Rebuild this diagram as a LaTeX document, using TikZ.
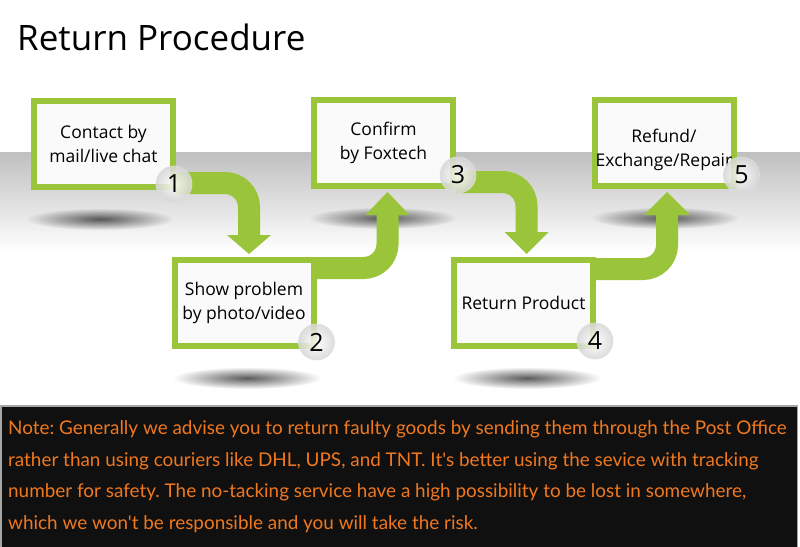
\documentclass[tikz,border=0pt]{standalone}
\usepackage{fontspec}
\setmainfont{Open Sans}
\newfontfamily\notefont{Lato}
\usetikzlibrary{calc,fadings,shadings}
\definecolor{grn}{RGB}{154,196,58}
\definecolor{noteorange}{RGB}{240,120,30}
\definecolor{notebg}{RGB}{16,16,16}
\tikzfading[name=shadowfade, inner color=transparent!25, outer color=transparent!100]
\frenchspacing
\begin{document}
\begin{tikzpicture}[x=1pt,y=-1pt,
  stepbox/.style={draw=grn, line width=6pt, fill=white!96!gray, minimum width=139pt, minimum height=86pt, inner sep=0pt, align=center, font=\fontsize{17.5}{24}\selectfont},
  shaft/.style={draw=grn, line width=22pt, rounded corners=24pt},
  headtri/.style={fill=grn},
  numc/.style={circle, minimum size=36pt, inner sep=0pt, shade, inner color=white, outer color=gray!32, draw=gray!25, line width=0.6pt, fill opacity=0.85, text opacity=1, font=\fontsize{25}{25}\selectfont},
  shadowell/.style={fill=black!85, path fading=shadowfade},
  notetxt/.style={anchor=base west, inner sep=0pt, text=noteorange, font=\notefont\fontsize{18.9}{22}\selectfont}
]
\useasboundingbox (0,0) rectangle (800,546);
\fill[white] (0,0) rectangle (800,546);
% gray band
\shade[top color=black!25, bottom color=white] (0,152) rectangle (800,252);
% shadows
\fill[shadowell] (100,219) ellipse [x radius=74pt, y radius=11pt];
\fill[shadowell] (247,378) ellipse [x radius=74pt, y radius=11pt];
\fill[shadowell] (383,218) ellipse [x radius=74pt, y radius=11pt];
\fill[shadowell] (527,378) ellipse [x radius=74pt, y radius=11pt];
\fill[shadowell] (665,218) ellipse [x radius=74pt, y radius=11pt];
% title
\node[anchor=base west, inner sep=0pt, font=\fontsize{35}{35}\selectfont] (title) at (17,50) {Return Procedure};
% box positions
\path (103.5,144) coordinate (c1) (244,303) coordinate (c2) (383.5,143) coordinate (c3) (523.5,303) coordinate (c4) (664,143) coordinate (c5);
\node[stepbox, draw=none, fill=none] (b1) at (c1) {};
\node[stepbox, draw=none, fill=none] (b2) at (c2) {};
\node[stepbox, draw=none, fill=none] (b3) at (c3) {};
\node[stepbox, draw=none, fill=none] (b4) at (c4) {};
\node[stepbox, draw=none, fill=none] (b5) at (c5) {};
% shafts
\draw[shaft] ($(b1.south east)+(0,-7)$) -| ($(b2.north)+(5,-22)$);
\draw[shaft] ($(b2.east)+(0,-35)$) -| ($(b3.south)+(4,26)$);
\draw[shaft] ($(b3.south east)+(0,-7)$) -| ($(b4.north)+(3,-25)$);
\draw[shaft] ($(b4.east)+(0,-34)$) -| ($(b5.south)+(3,26)$);
% boxes
\node[stepbox] (s1) at (c1) {Contact by\\mail/live chat};
\node[stepbox] (s2) at (c2) {Show problem\\by photo/video};
\node[stepbox] (s3) at (c3) {Confirm\\by Foxtech};
\node[stepbox] (s4) at (c4) {Return Product};
\node[stepbox] (s5) at (c5) {\rule{0pt}{27pt}Refund/\\Exchange/Repair};
% heads
\fill[headtri] ($(b2.north)+(-17,-22)$) -- ($(b2.north)+(27,-22)$) -- ($(b2.north)+(5,-3)$) -- cycle;
\fill[headtri] ($(b3.south)+(-18,26)$) -- ($(b3.south)+(26,26)$) -- ($(b3.south)+(4,3)$) -- cycle;
\fill[headtri] ($(b4.north)+(-19,-25)$) -- ($(b4.north)+(25,-25)$) -- ($(b4.north)+(3,-3)$) -- cycle;
\fill[headtri] ($(b5.south)+(-20,26)$) -- ($(b5.south)+(26,26)$) -- ($(b5.south)+(3,3)$) -- cycle;
% number circles
\node[numc] (n1) at ($(b1.south east)+(-2,-6)$) {1};
\node[numc] (n2) at ($(b2.south east)+(0,-7)$) {2};
\node[numc] (n3) at ($(b3.south east)+(2,-14)$) {3};
\node[numc] (n4) at ($(b4.south east)+(-1,-8)$) {4};
\node[numc] (n5) at ($(b5.south east)+(5,-14)$) {5};
% note box
\draw[draw=gray!70, line width=1.5pt, fill=notebg] (0.75,405.75) rectangle (797.25,548);
\node[notetxt] (l1) at (8,434) {Note: Generally we advise you to return faulty goods by sending them through the Post Office};
\node[notetxt] (l2) at (8,466) {rather than using couriers like DHL, UPS, and TNT. It's better using the sevice with tracking};
\node[notetxt] (l3) at (8,497) {number for safety. The no-tacking service have a high possibility to be lost in somewhere,};
\node[notetxt] (l4) at (8,529) {which we won't be responsible and you will take the risk.};
\end{tikzpicture}
\end{document}
